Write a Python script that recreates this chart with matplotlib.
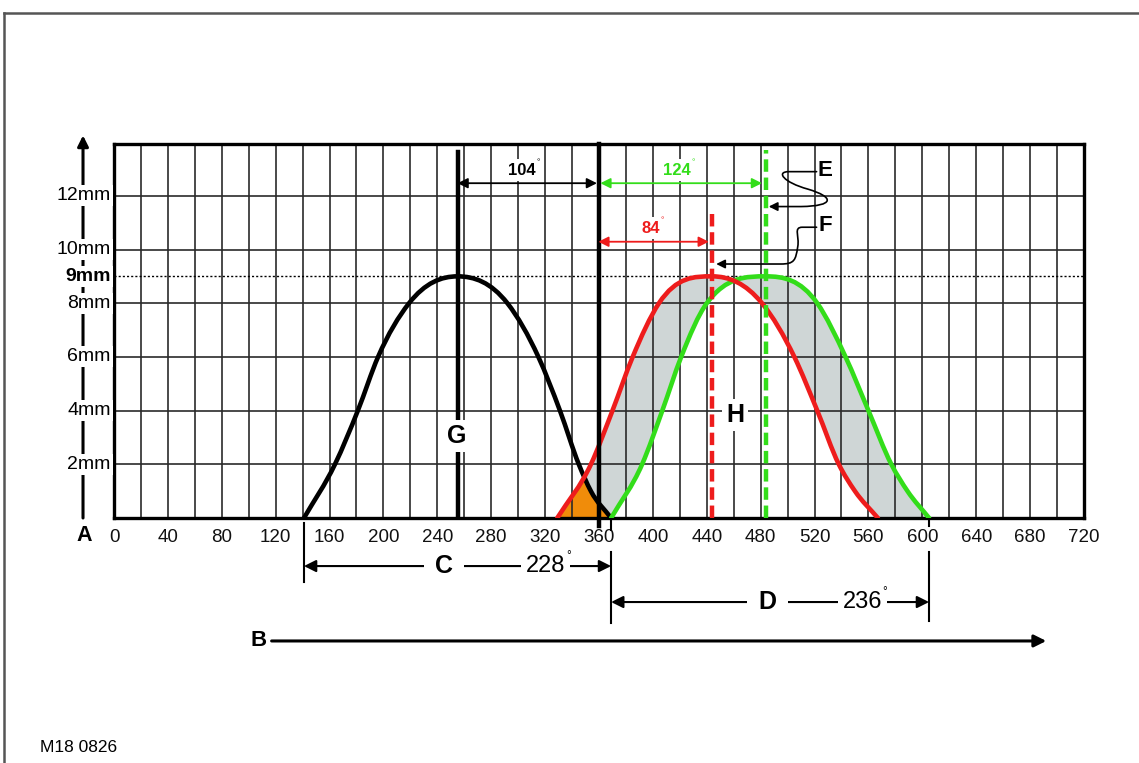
import numpy as np
import matplotlib
matplotlib.use("Agg")
import matplotlib.pyplot as plt
from matplotlib.path import Path
from matplotlib.patches import FancyArrowPatch, PathPatch
from matplotlib.lines import Line2D

plt.rcParams['font.family'] = ['Liberation Sans', 'DejaVu Sans']

# crank angle (deg) / valve lift (mm)
black_deg = [141, 164, 181, 196, 219, 255, 292, 315, 331, 345, 354, 369]
black_mm = [0, 2, 4, 6, 8, 9, 8, 6, 4, 2, 1, 0]

red_deg = [329, 354, 370, 385, 404.5, 444, 481, 505, 522, 538, 550, 567]
red_mm = [0, 2, 4, 6, 8, 9, 8, 6, 4, 2, 1, 0]

green_deg = [369, 392, 407, 421, 440, 484, 522, 543, 560, 577, 589, 605]
green_mm = [0, 2, 4, 6, 8, 9, 8, 6, 4, 2, 1, 0]

x_ticks = list(range(0, 721, 40))
y_ticks = [2, 4, 6, 8, 9, 10, 12]
y_labels = ['2mm', '4mm', '6mm', '8mm', '9mm', '10mm', '12mm']

tdc = 360
black_peak = 255
red_peak = 444
green_peak = 484
C_span = (141, 369)
D_span = (369, 605)

RED = '#ee1c1c'
GREEN = '#33dd1a'
GREY = '#cfd6d6'
ORANGE = '#f08c0a'


def smooth_path(xs, ys, close=False):
    # cubic hermite through the read points, written as bezier segments
    x = np.asarray(xs, float)
    y = np.asarray(ys, float)
    h = np.diff(x)
    d = np.diff(y) / h
    m = np.zeros_like(x)
    for i in range(1, len(x) - 1):
        if d[i - 1] * d[i] > 0:
            t = (h[i] * d[i - 1] + h[i - 1] * d[i]) / (h[i - 1] + h[i])
            lim = 3 * min(abs(d[i - 1]), abs(d[i]))
            m[i] = np.sign(t) * min(abs(t), lim)
    m[0] = d[0]
    m[-1] = d[-1]
    verts = [(x[0], y[0])]
    codes = [Path.MOVETO]
    for i in range(len(x) - 1):
        verts += [(x[i] + h[i] / 3, y[i] + m[i] * h[i] / 3),
                  (x[i + 1] - h[i] / 3, y[i + 1] - m[i + 1] * h[i] / 3),
                  (x[i + 1], y[i + 1])]
        codes += [Path.CURVE4] * 3
    if close:
        verts.append((x[0], y[0]))
        codes.append(Path.CLOSEPOLY)
    return Path(verts, codes)


fig = plt.figure(figsize=(11.39, 7.63), dpi=100)
ax = fig.add_axes([114 / 1139, 1 - 518 / 763, 970 / 1139, 374 / 763])
ax.set_xlim(0, 720)
ax.set_ylim(0, 13.93)

# fills: grey between the two inlet curves, orange where exhaust and inlet overlap
red_poly = ax.add_patch(PathPatch(smooth_path(red_deg, red_mm, True), fc=GREY, lw=0, zorder=1))
ax.add_patch(PathPatch(smooth_path(green_deg, green_mm, True), fc=GREY, lw=0, zorder=1))
both = ax.add_patch(PathPatch(smooth_path(green_deg, green_mm, True), fc='white', lw=0, zorder=1.1))
both.set_clip_path(red_poly)
ovl = ax.add_patch(PathPatch(smooth_path(black_deg, black_mm, True), fc=ORANGE, lw=0, zorder=1.1))
ovl.set_clip_path(red_poly)

# grid
ax.set_xticks(x_ticks)
ax.set_xticks(range(0, 721, 20), minor=True)
ax.set_yticks(range(0, 14, 2))
ax.grid(which='both', color='#2a2a2a', lw=1.2)
ax.tick_params(axis='x', which='both', length=0, pad=8, labelsize=13.5, colors='#111111')
ax.tick_params(axis='y', which='both', length=0, labelleft=False)
for s in ax.spines.values():
    s.set_linewidth(2.4)
ax.axhline(9, color='k', lw=1.0, ls=(0, (1.5, 1.5)), zorder=1.6)

# y labels over the vertical arrow
ax.annotate('', xy=(-23, 14.25), xytext=(-23, 0), annotation_clip=False,
            arrowprops=dict(arrowstyle='-|>', lw=2.2, color='k', mutation_scale=16,
                            shrinkA=0, shrinkB=0), zorder=4)
for v, lab in zip(y_ticks, y_labels):
    ax.text(-2.5, v, lab, ha='right', va='center', fontsize=14,
            fontweight='bold' if v == 9 else 'normal', clip_on=False, zorder=5,
            bbox=dict(fc='white', ec='none', boxstyle='square,pad=0.1'))
ax.text(-22, -0.67, 'A', ha='center', va='center', fontsize=15.5, fontweight='bold', clip_on=False)

# curves
for xs, ys, col, z in [(black_deg, black_mm, 'k', 3), (green_deg, green_mm, GREEN, 3.1),
                       (red_deg, red_mm, RED, 3.2)]:
    ax.add_patch(PathPatch(smooth_path(xs, ys), fill=False, ec=col, lw=3.3,
                           joinstyle='round', capstyle='round', zorder=z))

# reference lines
ax.plot([black_peak, black_peak], [0, 13.63], color='k', lw=3.2, zorder=3.5)
ax.plot([tdc, tdc], [-0.28, 13.93], color='k', lw=3.2, zorder=3.5, clip_on=False)
ax.plot([red_peak, red_peak], [0, 11.4], color=RED, lw=3.2, ls=(0, (2.8, 1.3)), zorder=3.6)
ax.plot([green_peak, green_peak], [0, 13.7], color=GREEN, lw=3.2, ls=(0, (2.8, 1.3)), zorder=3.6)

ax.text(254, 3.05, 'G', ha='center', va='center', fontsize=18, fontweight='bold', zorder=6,
        bbox=dict(fc='white', ec='none', boxstyle='square,pad=0.15'))
ax.text(461, 3.84, 'H', ha='center', va='center', fontsize=18, fontweight='bold', zorder=6,
        bbox=dict(fc='white', ec='none', boxstyle='square,pad=0.15'))


def dim_arrow(x0, x1, y, color, lw=1.3, ms=15):
    ax.annotate('', xy=(x0, y), xytext=(x1, y), annotation_clip=False, zorder=5,
                arrowprops=dict(arrowstyle='<|-|>', lw=lw, color=color, mutation_scale=ms,
                                shrinkA=0, shrinkB=0))


dim_arrow(black_peak, 358.5, 12.47, 'k')
dim_arrow(361, 481, 12.47, GREEN)
dim_arrow(359.5, 441.5, 10.29, RED)


def deg_label(x, y, num, color, size, weight):
    ax.text(x, y, num, ha='right', va='center', fontsize=size, fontweight=weight,
            color=color, clip_on=False, zorder=7,
            bbox=dict(fc='white', ec='none', boxstyle='square,pad=0.2'))
    ax.text(x + 0.5, y + size * 0.022, '°', ha='left', va='center', fontsize=size * 0.5,
            color=color, clip_on=False, zorder=7)


deg_label(313, 12.96, '104', 'k', 12, 'bold')
deg_label(428, 12.96, '124', GREEN, 12, 'bold')
deg_label(405, 10.79, '84', RED, 12, 'bold')

# E / F callouts
ax.text(528, 12.96, 'E', ha='center', va='center', fontsize=16, fontweight='bold')
ax.text(528, 10.88, 'F', ha='center', va='center', fontsize=16, fontweight='bold')
e_path = Path([(521.5, 12.9), (501, 12.9), (491, 12.9), (497, 12.5), (515, 12.25),
               (535, 11.95), (535, 11.62), (510, 11.6), (486, 11.6)],
              [Path.MOVETO, Path.LINETO, Path.CURVE4, Path.CURVE4, Path.CURVE4,
               Path.CURVE4, Path.CURVE4, Path.CURVE4, Path.LINETO])
f_path = Path([(521.5, 10.83), (511, 10.83), (504, 10.83), (509, 10.5), (507.5, 10.1),
               (506, 9.6), (505, 9.46), (495, 9.46), (447, 9.46)],
              [Path.MOVETO, Path.LINETO, Path.CURVE4, Path.CURVE4, Path.CURVE4,
               Path.CURVE4, Path.CURVE4, Path.CURVE4, Path.LINETO])
for p in (e_path, f_path):
    ax.add_patch(FancyArrowPatch(path=p, arrowstyle='-|>', mutation_scale=13, lw=1.2,
                                 color='k', zorder=6))

# duration brackets below the axis
for xs, y0, y1 in [(C_span[0], -0.19, -2.38), (C_span[1], -0.04, -0.45),
                   (D_span[0], -1.27, -3.9), (D_span[1], -0.04, -0.3), (D_span[1], -1.27, -3.84)]:
    ax.plot([xs, xs], [y0, y1], color='k', lw=1.5, clip_on=False)
dim_arrow(C_span[0], C_span[1], -1.79, 'k', lw=1.5, ms=18)
dim_arrow(D_span[0], D_span[1], -3.13, 'k', lw=1.5, ms=18)
ax.text(245, -1.79, 'C', ha='center', va='center', fontsize=18, fontweight='bold', zorder=7,
        clip_on=False, bbox=dict(fc='white', ec='none', boxstyle='square,pad=0.45'))
ax.text(485, -3.13, 'D', ha='center', va='center', fontsize=18, fontweight='bold', zorder=7,
        clip_on=False, bbox=dict(fc='white', ec='none', boxstyle='square,pad=0.45'))
deg_label(335, -1.79, '228', 'k', 17, 'normal')
deg_label(570, -3.13, '236', 'k', 17, 'normal')

# time arrow
ax.text(107, -4.58, 'B', ha='center', va='center', fontsize=16, fontweight='bold', clip_on=False)
ax.annotate('', xy=(692, -4.58), xytext=(117, -4.58), annotation_clip=False,
            arrowprops=dict(arrowstyle='-|>', lw=2.2, color='k', mutation_scale=18,
                            shrinkA=0, shrinkB=0))

# outer frame and figure number
fig.add_artist(Line2D([4 / 1139, 4 / 1139], [0, 1 - 13 / 763], color='#555555', lw=1.8))
fig.add_artist(Line2D([4 / 1139, 1], [1 - 13 / 763, 1 - 13 / 763], color='#555555', lw=1.8))
fig.text(40 / 1139, 1 - 748 / 763, 'M18 0826', ha='left', va='center', fontsize=12.5,
         family=['Liberation Sans Narrow', 'Liberation Sans'])

fig.savefig('out.png', dpi=100, facecolor='white')
